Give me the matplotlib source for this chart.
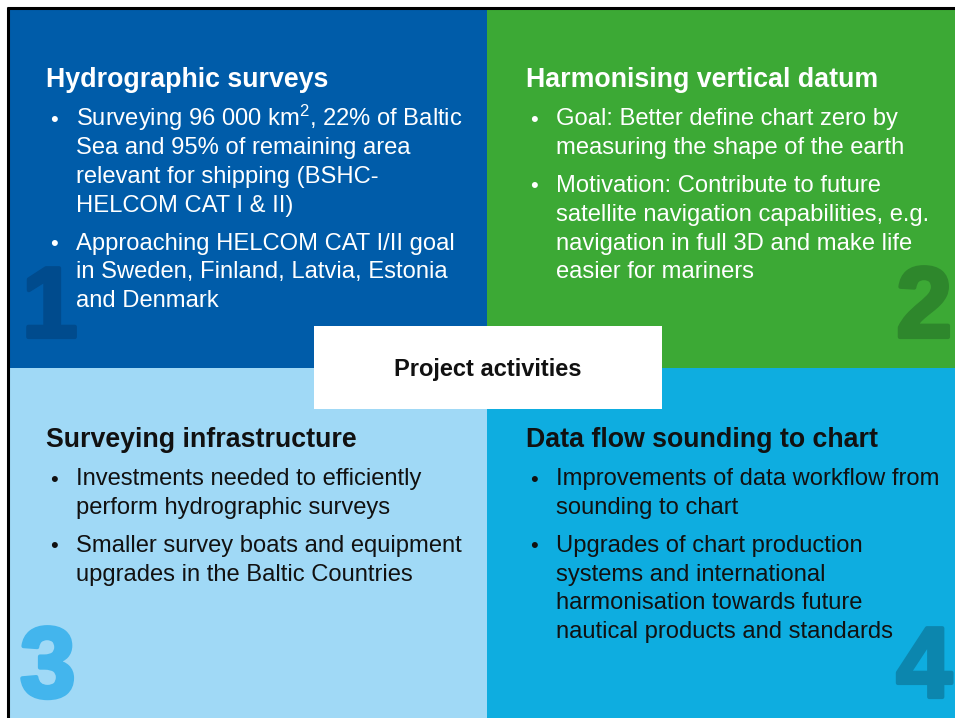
import matplotlib.pyplot as plt
from matplotlib.patches import Rectangle
import matplotlib.patheffects as pe

plt.rcParams['font.family'] = ['Liberation Sans', 'DejaVu Sans']
plt.rcParams['mathtext.fontset'] = 'custom'
plt.rcParams['mathtext.rm'] = 'Liberation Sans'
plt.rcParams['mathtext.default'] = 'regular'

# content of the four panels
numbers = ["1", "2", "3", "4"]
titles = ["Hydrographic surveys", "Harmonising vertical datum",
          "Surveying infrastructure", "Data flow sounding to chart"]
bullets = [
    [["Surveying 96 000 km$^{2}$, 22% of Baltic", "Sea and 95% of remaining area",
      "relevant for shipping (BSHC-", "HELCOM CAT I & II)"],
     ["Approaching HELCOM CAT I/II goal", "in Sweden, Finland, Latvia, Estonia",
      "and Denmark"]],
    [["Goal: Better define chart zero by", "measuring the shape of the earth"],
     ["Motivation: Contribute to future", "satellite navigation capabilities, e.g.",
      "navigation in full 3D and make life", "easier for mariners"]],
    [["Investments needed to efficiently", "perform hydrographic surveys"],
     ["Smaller survey boats and equipment", "upgrades in the Baltic Countries"]],
    [["Improvements of data workflow from", "sounding to chart"],
     ["Upgrades of chart production", "systems and international",
      "harmonisation towards future", "nautical products and standards"]],
]
center_label = "Project activities"

# styling
bg = ["#005ca9", "#3ca935", "#a0d9f6", "#0eade0"]
num_col = ["#004b8d", "#2e872c", "#43b5ed", "#0c86ae"]
txt_col = ["white", "white", "#111111", "#111111"]
# panel boxes: x0, y0, x1, y1 (pixels)
boxes = [(8, 8, 487, 368), (487, 8, 955, 368), (8, 368, 487, 718), (487, 368, 955, 718)]
title_pos = [(46, 87), (526, 87), (46, 447), (526, 447)]   # baselines
body_y0 = [125.5, 125.5, 485.5, 485.5]                      # first baseline
num_pos = [(22, 337, "left"), (952, 337, "right"), (20, 697, "left"), (952, 697, "right")]
line_h = 28.8
bullet_gap = 8.8

fig = plt.figure(figsize=(9.55, 7.18), dpi=100)
ax = fig.add_axes([0, 0, 1, 1])
ax.set_xlim(0, 955)
ax.set_ylim(718, 0)
ax.axis('off')

for i in range(4):
    x0, y0, x1, y1 = boxes[i]
    ax.add_patch(Rectangle((x0, y0), x1 - x0, y1 - y0, facecolor=bg[i], edgecolor='none', zorder=1))
    nx, ny, ha = num_pos[i]
    ax.text(nx, ny, numbers[i], color=num_col[i], fontsize=72, fontweight='bold',
            ha=ha, va='baseline', zorder=2,
            path_effects=[pe.withStroke(linewidth=3, foreground=num_col[i])])
    tx, ty = title_pos[i]
    ax.text(tx, ty, titles[i], color=txt_col[i], fontsize=19.3, fontweight='bold',
            ha='left', va='baseline', zorder=3)
    y = body_y0[i]
    for b in bullets[i]:
        ax.text(tx + 4, y, "\u2022", color=txt_col[i], fontsize=16, ha='left', va='baseline', zorder=3)
        for line in b:
            ax.text(tx + 30, y, line, color=txt_col[i], fontsize=17.1, ha='left', va='baseline', zorder=3)
            y += line_h
        y += bullet_gap

# frame lines on top and left
ax.plot([7, 955], [8, 8], color='black', lw=2.2, zorder=4, solid_capstyle='butt')
ax.plot([8, 8], [7, 718], color='black', lw=2.2, zorder=4, solid_capstyle='butt')

# center label box
ax.add_patch(Rectangle((314, 326), 348, 83, facecolor='white', edgecolor='none', zorder=5))
ax.text(488, 376, center_label, color='#111111', fontsize=17, fontweight='bold',
        ha='center', va='baseline', zorder=6)

fig.savefig("out.png", dpi=100)
